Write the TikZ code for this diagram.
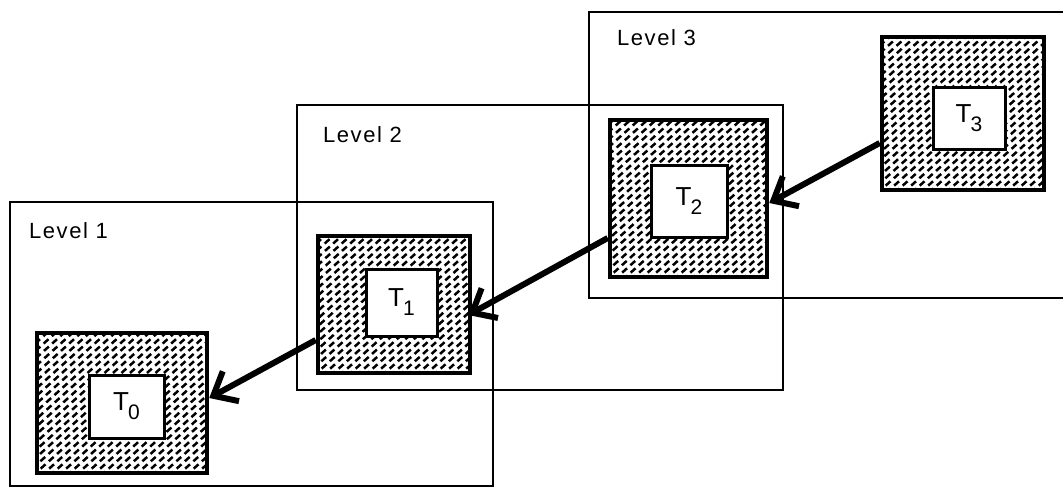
\documentclass[tikz,border=0pt]{standalone}
\usepackage{fontspec}
\setmainfont{Liberation Sans}
\usetikzlibrary{arrows.meta,calc}
\newcommand\tlab[1]{{\fontsize{26}{26}\selectfont T\kern-1pt\raisebox{-9pt}{\fontsize{21}{21}\selectfont #1}}}
\tikzset{
  frame/.style={line width=2.6pt},
  levellabel/.style={anchor=base west, inner sep=0pt, font=\fontsize{22}{22}\selectfont\addfontfeatures{LetterSpace=7}},
  hatched/.style={draw, line width=4.5pt, fill=white, inner sep=0pt,
    path picture={
      \foreach \s in {-200,-191.5,...,200}
        \draw[line width=2.5pt, dash pattern=on 6.5pt off 4.5pt]
          ($(path picture bounding box.south west)+(\s pt,-3pt)$) -- ++(200pt,180pt);
    }},
  inner/.style={draw, line width=3pt, fill=white, inner sep=0pt},
  arr/.style={line width=6pt, -{Straight Barb[length=20pt,width=34pt]}},
}
\begin{document}
\begin{tikzpicture}[x=1pt,y=-1pt]
\useasboundingbox (0,0) rectangle (1063,488);
\clip (0,0) rectangle (1063,488);
\fill[white] (0,0) rectangle (1063,488);
% level frames
\draw[frame] (10,202) rectangle (493,486);
\draw[frame] (297,105) rectangle (783,390);
\draw[frame] (589,12) rectangle (1080,298);
\node[levellabel] (l1) at (29,238) {Level 1};
\node[levellabel] (l2) at (323,142) {Level 2};
\node[levellabel] (l3) at (617,45) {Level 3};
% hatched blocks
\node[hatched, minimum width=170pt, minimum height=140pt] (t0o) at (122,403) {};
\node[hatched, minimum width=152pt, minimum height=137pt] (t1o) at (394,304.5) {};
\node[hatched, minimum width=157pt, minimum height=157pt] (t2o) at (688.5,198.5) {};
\node[hatched, minimum width=162pt, minimum height=153pt] (t3o) at (963,113.5) {};
% inner boxes
\node[inner, minimum width=75pt, minimum height=63pt] (t0i) at (126.5,406.5) {\tlab{0}};
\node[inner, minimum width=71pt, minimum height=67pt] (t1i) at (401.5,302.5) {\tlab{1}};
\node[inner, minimum width=76pt, minimum height=72pt] (t2i) at (689,201) {\tlab{2}};
\node[inner, minimum width=72pt, minimum height=62pt] (t3i) at (969,118) {\tlab{3}};
% arrows
\draw[arr] ([yshift=-29.5pt]t3o.west) -- ([yshift=-4.5pt]t2o.east);
\draw[arr] ([yshift=-39.5pt]t2o.west) -- ([xshift=-4pt,yshift=-10.5pt]t1o.east);
\draw[arr] ([yshift=-35.5pt]t1o.west) -- ([yshift=5pt]t0o.east);
\end{tikzpicture}
\end{document}
